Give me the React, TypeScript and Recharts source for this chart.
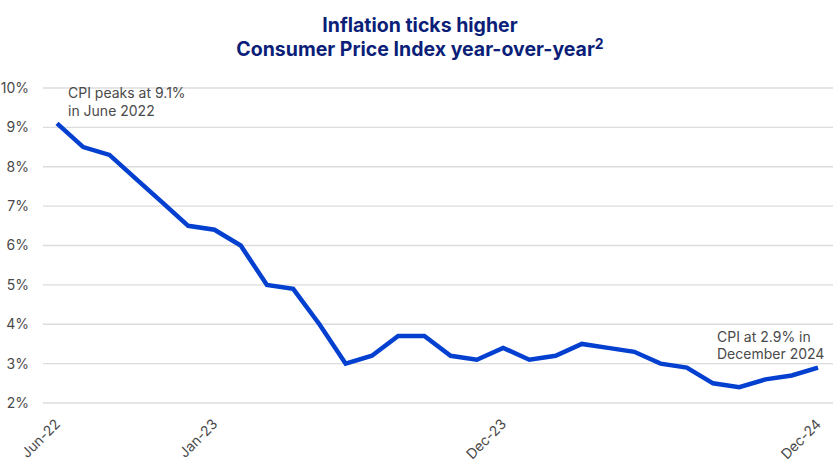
import { CartesianGrid, Line, LineChart, ReferenceDot, XAxis, YAxis } from "recharts";

const months = [
  "Jun-22", "Jul-22", "Aug-22", "Oct-22", "Nov-22", "Dec-22",
  "Jan-23", "Feb-23", "Mar-23", "Apr-23", "May-23", "Jun-23",
  "Jul-23", "Aug-23", "Sep-23", "Oct-23", "Nov-23", "Dec-23",
  "Jan-24", "Feb-24", "Mar-24", "Apr-24", "May-24", "Jun-24",
  "Jul-24", "Aug-24", "Sep-24", "Oct-24", "Nov-24", "Dec-24",
];

const cpi = [
  9.1, 8.5, 8.3, 7.7, 7.1, 6.5,
  6.4, 6.0, 5.0, 4.9, 4.0, 3.0,
  3.2, 3.7, 3.7, 3.2, 3.1, 3.4,
  3.1, 3.2, 3.5, 3.4, 3.3, 3.0,
  2.9, 2.5, 2.4, 2.6, 2.7, 2.9,
];

const shownMonths = ["Jun-22", "Jan-23", "Dec-23", "Dec-24"];
const yTicks = [2, 3, 4, 5, 6, 7, 8, 9, 10];

const chartData = months.map((month, i) => ({ month, cpi: cpi[i] }));

const FONT = "Inter, 'Open Sans', sans-serif";
const GREY = "#4a4a4a";

function MonthTick(props: any) {
  const { x, y, payload } = props;
  return (
    <g transform={`translate(${x + 4},${y + 14})`}>
      <text
        textAnchor="end"
        transform="rotate(-45)"
        fontSize={14}
        fill={GREY}
        fontFamily={FONT}
      >
        {payload.value}
      </text>
    </g>
  );
}

function Note({ viewBox, lines, dx, dy }: any) {
  const cx = viewBox.x + viewBox.width / 2;
  const cy = viewBox.y + viewBox.height / 2;
  return (
    <text fontSize={14} fill={GREY} fontFamily={FONT}>
      {lines.map((line: string, i: number) => (
        <tspan key={i} x={cx + dx} y={cy + dy + i * 17.5}>
          {line}
        </tspan>
      ))}
    </text>
  );
}

export default function App() {
  return (
    <div
      style={{
        position: "absolute",
        left: 0,
        top: 0,
        width: 840,
        height: 472,
        background: "#fff",
        fontFamily: FONT,
      }}
    >
      <div
        style={{
          position: "absolute",
          top: 13,
          left: 0,
          width: 840,
          textAlign: "center",
          color: "#0b1f78",
          fontWeight: 700,
          fontSize: 19.5,
          lineHeight: "24px",
        }}
      >
        <div>Inflation ticks higher</div>
        <div>
          Consumer Price Index year-over-year
          <sup style={{ fontSize: 14, lineHeight: 0, verticalAlign: "7px" }}>2</sup>
        </div>
      </div>
      <div style={{ position: "absolute", top: 0, left: 0 }}>
        <LineChart
          width={840}
          height={472}
          data={chartData}
          margin={{ top: 88, right: 7, left: 0, bottom: 9 }}
        >
          <CartesianGrid vertical={false} stroke="#dcdcdc" strokeWidth={1.3} />
          <XAxis
            dataKey="month"
            ticks={shownMonths}
            interval={0}
            tick={<MonthTick />}
            axisLine={false}
            tickLine={false}
            height={60}
            padding={{ left: 14, right: 15 }}
          />
          <YAxis
            domain={[2, 10]}
            ticks={yTicks}
            tickFormatter={(v: number) => `${v}%`}
            tick={{ fontSize: 14, fill: GREY, fontFamily: FONT }}
            axisLine={false}
            tickLine={false}
            tickSize={6}
            tickMargin={8}
            width={43}
          />
          <Line
            type="linear"
            dataKey="cpi"
            stroke="#0440d0"
            strokeWidth={4.5}
            dot={false}
            isAnimationActive={false}
          />
          <ReferenceDot
            x="Jun-22"
            y={9.1}
            r={0}
            fill="none"
            stroke="none"
            label={(p: any) => (
              <Note viewBox={p.viewBox} lines={["CPI peaks at 9.1%", "in June 2022"]} dx={11} dy={-25} />
            )}
          />
          <ReferenceDot
            x="Dec-24"
            y={2.9}
            r={0}
            fill="none"
            stroke="none"
            label={(p: any) => (
              <Note viewBox={p.viewBox} lines={["CPI at 2.9% in", "December 2024"]} dx={-101} dy={-26} />
            )}
          />
        </LineChart>
      </div>
    </div>
  );
}
